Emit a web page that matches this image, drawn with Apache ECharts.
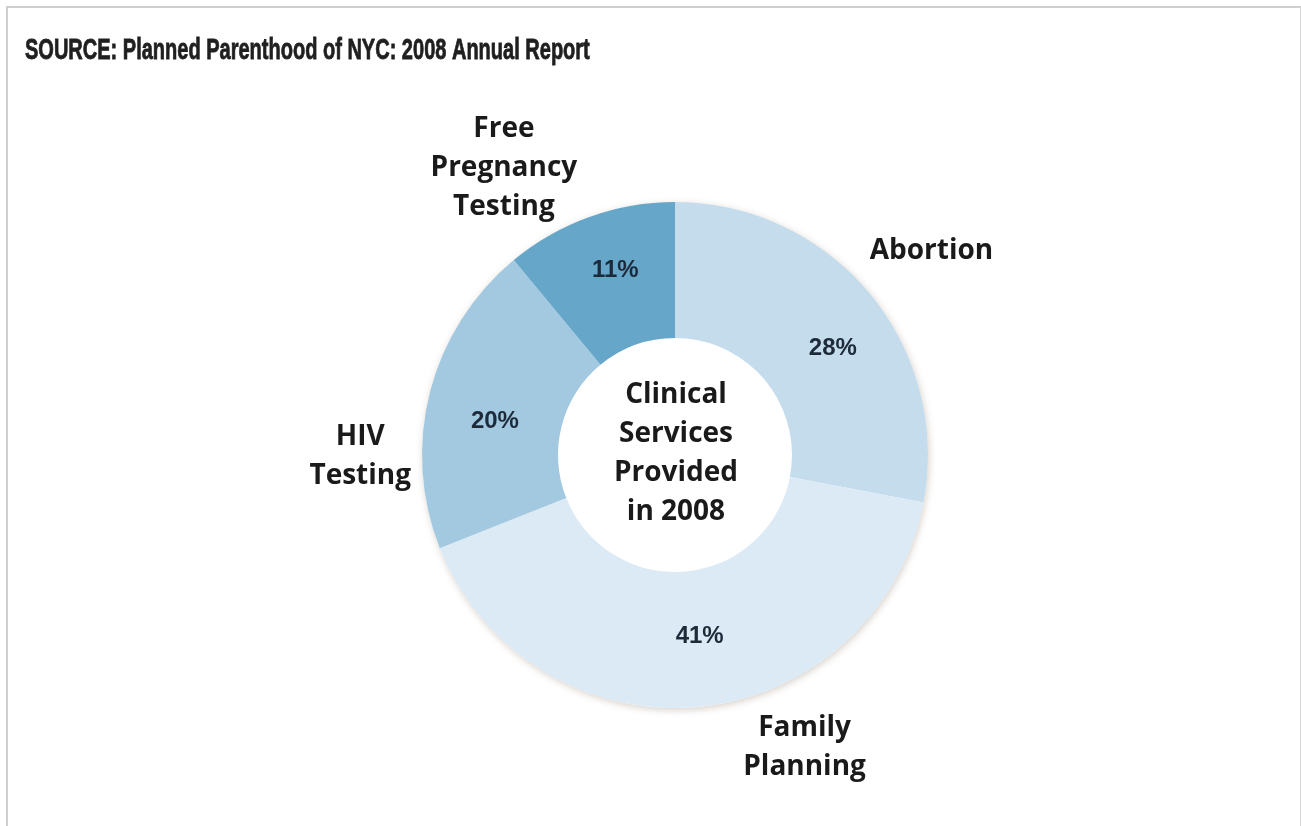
<!DOCTYPE html>
<html>
<head>
<meta charset="utf-8">
<title>Clinical Services Provided in 2008</title>
<script src="https://cdn.jsdelivr.net/npm/echarts@6/dist/echarts.min.js"></script>
<style>
  html, body { margin: 0; padding: 0; background: #ffffff; }
  #chart { position: absolute; left: 0; top: 0; width: 1301px; height: 826px; }
  #frame {
    position: absolute; left: 6px; top: 6px; width: 1292px; height: 830px;
    border-left: 2px solid #cfcfcf; border-top: 2px solid #cfcfcf; border-right: 2px solid #d6d6d6;
    pointer-events: none;
  }
</style>
</head>
<body>
<div id="chart"></div>
<div id="frame"></div>
<script>
// Clinical services, share of total (percent)
const categories = ['Abortion', 'Family Planning', 'HIV Testing', 'Free Pregnancy Testing'];
const shares = [28, 41, 20, 11];
const nameLines = [['Abortion'], ['Family', 'Planning'], ['HIV', 'Testing'], ['Free', 'Pregnancy', 'Testing']];
const sliceColors = ['#c5dcec', '#dceaf6', '#a3c9e0', '#66a6c8'];
const sourceText = 'SOURCE: Planned Parenthood of NYC: 2008 Annual Report';
const centerText = ['Clinical', 'Services', 'Provided', 'in 2008'];

// nudges for the outer category names
const nameOffsets = [
  { dx: 6, dy: 3 },
  { dx: 99, dy: -31 },
  { dx: 0, dy: 82 },
  { dx: -61, dy: 19 }
];
// nudges for the percentage labels inside the ring
const pctOffsets = [
  { dx: 13, dy: 13 },
  { dx: 7, dy: -6 },
  { dx: 2, dy: 13 },
  { dx: 4, dy: -8 }
];

const CENTER = [675, 455];
const chart = echarts.init(document.getElementById('chart'), null, { renderer: 'canvas' });

const sliceData = categories.map((c, i) => ({
  name: c,
  value: shares[i],
  itemStyle: { color: sliceColors[i] }
}));

chart.setOption({
  backgroundColor: '#ffffff',
  animation: false,
  graphic: [
    {
      // condensed heading: regular bold face squeezed horizontally
      type: 'text',
      x: 25,
      y: 36,
      scaleX: 0.69,
      style: {
        text: sourceText,
        font: 'bold 29px "Liberation Sans", Arial, sans-serif',
        fill: '#1f1f1f',
        stroke: '#1f1f1f',
        lineWidth: 0.8,
        textBaseline: 'top'
      }
    }
  ],
  title: [
    {
      text: centerText.join('\n'),
      left: 671,
      top: 371,
      textAlign: 'center',
      textStyle: {
        fontFamily: '"Open Sans", sans-serif',
        fontWeight: 700,
        fontSize: 28,
        lineHeight: 39,
        color: '#1a1a1a'
      }
    }
  ],
  series: [
    {
      // soft shadow disc under the ring
      type: 'pie',
      center: CENTER,
      radius: [0, 253],
      silent: true,
      z: 1,
      label: { show: false },
      labelLine: { show: false },
      itemStyle: {
        color: '#ffffff',
        shadowBlur: 7,
        shadowColor: 'rgba(140, 120, 100, 0.35)',
        shadowOffsetX: 1,
        shadowOffsetY: 2
      },
      data: [{ value: 1, name: 'base' }]
    },
    {
      type: 'pie',
      center: CENTER,
      radius: [117, 253],
      startAngle: 90,
      clockwise: true,
      silent: true,
      z: 2,
      label: {
        show: true,
        position: 'inside',
        formatter: '{d}%',
        fontFamily: '"Liberation Sans", Arial, sans-serif',
        fontWeight: 'bold',
        fontSize: 24,
        color: '#1c2a3a'
      },
      labelLine: { show: false },
      labelLayout: p => pctOffsets[p.dataIndex],
      data: sliceData
    },
    {
      // category names set around the ring
      type: 'pie',
      center: CENTER,
      radius: [253, 391],
      startAngle: 90,
      clockwise: true,
      silent: true,
      z: 3,
      itemStyle: { color: 'rgba(0,0,0,0)' },
      label: {
        show: true,
        position: 'inside',
        formatter: p => nameLines[p.dataIndex].join('\n'),
        fontFamily: '"Open Sans", sans-serif',
        fontWeight: 700,
        fontSize: 28,
        lineHeight: 39,
        color: '#1a1a1a'
      },
      labelLine: { show: false },
      labelLayout: p => nameOffsets[p.dataIndex],
      data: categories.map((c, i) => ({ name: c, value: shares[i] }))
    }
  ]
});
</script>
</body>
</html>
